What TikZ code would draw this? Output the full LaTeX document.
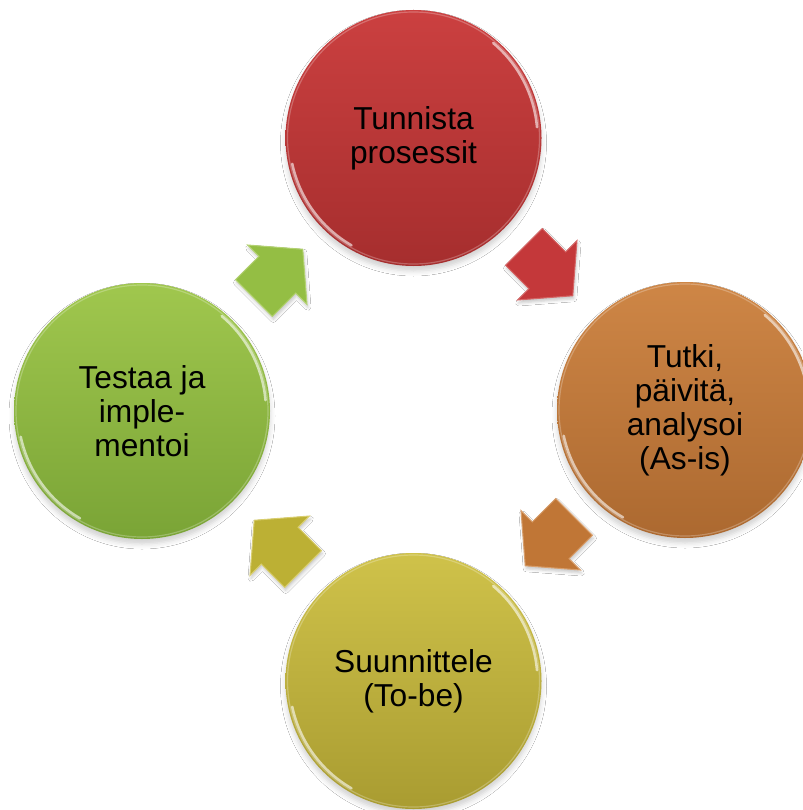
\documentclass[tikz,border=0pt]{standalone}
\usepackage{fontspec}
\setmainfont{Liberation Sans}
\usetikzlibrary{shadows.blur}
\definecolor{redT}{HTML}{CB4040}\definecolor{redB}{HTML}{A62E2E}
\definecolor{oraT}{HTML}{CE8646}\definecolor{oraB}{HTML}{AC6930}
\definecolor{yelT}{HTML}{CFC24A}\definecolor{yelB}{HTML}{A99C31}
\definecolor{grnT}{HTML}{A0C74E}\definecolor{grnB}{HTML}{7AA436}
\definecolor{redA}{HTML}{C4383A}\definecolor{oraA}{HTML}{C07636}
\definecolor{yelA}{HTML}{BCB034}\definecolor{grnA}{HTML}{94BE44}
\tikzset{
  ball/.style 2 args={circle, minimum size=256pt, inner sep=0pt,
    top color=#1, bottom color=#2, align=center, text=black,
    font=\fontsize{31.7pt}{34pt}\selectfont,
    blur shadow={shadow xshift=0pt, shadow yshift=-5pt, shadow blur radius=5pt, shadow opacity=18}},
  rim/.style={white, line width=2.6pt, opacity=0.6, line cap=round},
  softrim/.style={white, line width=1.2pt, opacity=0.25},
  blockarrow/.style 2 args={fill=#1, draw=#2, line width=1pt, line join=miter,
    blur shadow={shadow xshift=1pt, shadow yshift=-3pt, shadow blur radius=3pt, shadow opacity=22}},
}
\newcommand{\ballrim}[1]{%
  \draw[softrim] (#1) circle[radius=126pt];
  \draw[rim] ([shift={(192:124pt)}]#1) arc[start angle=192, end angle=240, radius=124pt];
  \draw[rim] ([shift={(5:124pt)}]#1) arc[start angle=5, end angle=50, radius=124pt];
}
\newcommand{\blockarrowpath}{(-34,26) -- (-1,26) -- (-1,42) -- (35,0) -- (-1,-42) -- (-1,-26) -- (-34,-26) -- cycle}
\begin{document}
\begin{tikzpicture}[x=1pt, y=1pt]
\useasboundingbox (0,0) rectangle (802,-810);
\fill[white] (0,0) rectangle (802,-810);

% block arrows
\begin{scope}[shift={(548,-271)}, rotate=-45]
  \coordinate (a1) at (0,0);
  \path[blockarrow={redA}{redT!80!white}] \blockarrowpath;
\end{scope}
\begin{scope}[shift={(550,-541)}, rotate=-135]
  \coordinate (a2) at (0,0);
  \path[blockarrow={oraA}{oraT!80!white}] \blockarrowpath;
\end{scope}
\begin{scope}[shift={(279,-545)}, rotate=135]
  \coordinate (a3) at (0,0);
  \path[blockarrow={yelA}{yelT!80!white}] \blockarrowpath;
\end{scope}
\begin{scope}[shift={(278,-274)}, rotate=45]
  \coordinate (a4) at (0,0);
  \path[blockarrow={grnA}{grnT!80!white}] \blockarrowpath;
\end{scope}

% circles
\node[ball={redT}{redB}] (top) at (413.5,-138) {Tunnista\\prosessit};
\ballrim{top}
\node[ball={oraT}{oraB}] (right) at (685,-410) {Tutki,\\päivitä,\\analysoi\\(As-is)};
\ballrim{right}
\node[ball={yelT}{yelB}] (bottom) at (413.5,-681) {Suunnittele\\(To-be)};
\ballrim{bottom}
\node[ball={grnT}{grnB}] (left) at (142,-411) {Testaa ja\\imple-\\mentoi};
\ballrim{left}
\end{tikzpicture}
\end{document}
